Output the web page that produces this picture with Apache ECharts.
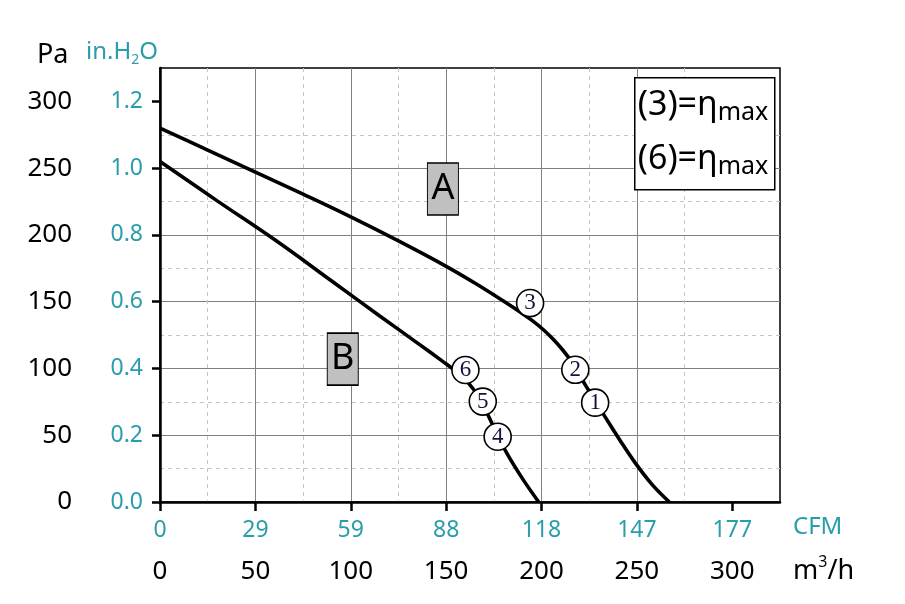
<!DOCTYPE html>
<html>
<head>
<meta charset="utf-8">
<script src="https://cdn.jsdelivr.net/npm/echarts@6/dist/echarts.min.js"></script>
<style>html,body{margin:0;padding:0;background:#fff}#c{width:905px;height:604px}</style>
</head>
<body>
<div id="c"></div>
<script>
// ---- data ----
const m3hTicks = [0, 50, 100, 150, 200, 250, 300];
const cfmLabels = ['0', '29', '59', '88', '118', '147', '177'];
const paTicks = [0, 50, 100, 150, 200, 250, 300];
const inh2oLabels = ['0.0', '0.2', '0.4', '0.6', '0.8', '1.0', '1.2'];

const qA = [0, 25, 50, 75, 100, 125, 150, 165, 180, 188, 195, 201, 206, 211, 215, 219, 223, 228, 233, 241, 249, 258, 267];
const pA = [280, 263.5, 247, 230.5, 213.5, 195.5, 176.5, 164, 150.5, 143, 136, 129, 122, 114, 106.5, 97.5, 87.5, 76, 64.5, 46.5, 29.5, 13, 0];
const qB = [0, 30, 60, 90, 115, 135, 148, 155, 160, 164, 168, 172, 177, 182, 190, 198.5];
const pB = [255, 225.5, 196.5, 165.5, 139.5, 119, 105.5, 98, 91.5, 85, 76.5, 65, 50, 36, 17.5, 0];

const markNamesA = ['3', '2', '1'];
const markQA = [194, 217.7, 228.1];
const markPA = [149, 99, 74.4];
const markNamesB = ['6', '5', '4'];
const markQB = [160.1, 169.2, 177];
const markPB = [98.9, 75.2, 48.9];

const curveLabels = ['A', 'B'];
const curveLabelQ = [148.3, 95.8];
const curveLabelP = [234.4, 107];

// ---- chart ----
const teal = '#2a9dab';
const font = 'Noto Sans';
const zip = (xs, ys) => xs.map((x, i) => [x, ys[i]]);

const chart = echarts.init(document.getElementById('c'));
const markerSeries = (names, qs, ps) => ({
  type: 'scatter', xAxisIndex: 0, yAxisIndex: 0, z: 5,
  symbol: 'circle', symbolSize: 27,
  itemStyle: {color: '#fff', borderColor: '#000', borderWidth: 1.6, opacity: 1},
  label: {show: true, position: 'inside', formatter: p => p.data.name,
          fontFamily: 'Liberation Serif', fontSize: 23, color: '#14143a'},
  emphasis: {disabled: true},
  data: names.map((n, i) => ({name: n, value: [qs[i], ps[i]]}))
});

const option = {
  animation: false,
  backgroundColor: '#fff',
  grid: {left: 160, top: 68, right: 125, bottom: 102, show: true,
         borderColor: '#000', borderWidth: 1.5, backgroundColor: 'transparent'},
  xAxis: [
    {type: 'value', min: 0, max: 325, interval: 25, position: 'bottom', z: 1,
     axisLine: {show: true, onZero: false, lineStyle: {color: '#000', width: 2.5}},
     axisTick: {show: false},
     axisLabel: {customValues: m3hTicks, margin: 57, color: '#000', fontSize: 26, fontFamily: font},
     splitLine: {show: true, showMaxLine: false,
                 lineStyle: {color: ['rgba(0,0,0,0)', '#c4c4c4'], type: [4, 4], width: 1}}},
    {type: 'value', min: 0, max: 325, interval: 50, position: 'bottom', z: 0,
     axisLine: {show: false},
     axisTick: {show: true, customValues: m3hTicks, length: 9, lineStyle: {color: '#000', width: 2.5}},
     axisLabel: {customValues: m3hTicks, margin: 17, color: teal, fontSize: 23, fontFamily: font,
                 formatter: v => cfmLabels[m3hTicks.indexOf(v)]},
     splitLine: {show: true, showMinLine: false, showMaxLine: false,
                 lineStyle: {color: '#808080', width: 1}}}
  ],
  yAxis: [
    {type: 'value', min: 0, max: 325, interval: 25, position: 'left', z: 1,
     axisLine: {show: true, onZero: false, lineStyle: {color: '#000', width: 2.5}},
     axisTick: {show: false},
     axisLabel: {customValues: paTicks, margin: 88, color: '#000', fontSize: 26, fontFamily: font},
     splitLine: {show: true, showMaxLine: false,
                 lineStyle: {color: ['rgba(0,0,0,0)', '#c4c4c4'], type: [4, 4], width: 1}}},
    {type: 'value', min: 0, max: 325, interval: 50, position: 'left', z: 0,
     axisLine: {show: false},
     axisTick: {show: true, customValues: paTicks, length: 8, lineStyle: {color: '#000', width: 2.5}},
     axisLabel: {customValues: paTicks, margin: 17, color: teal, fontSize: 23, fontFamily: font,
                 formatter: v => inh2oLabels[paTicks.indexOf(v)]},
     splitLine: {show: true, showMinLine: false, showMaxLine: false,
                 lineStyle: {color: '#808080', width: 1}}}
  ],
  series: [
    {type: 'line', name: 'A', xAxisIndex: 0, yAxisIndex: 0, z: 3, data: zip(qA, pA),
     showSymbol: false, smooth: 0.4, lineStyle: {color: '#000', width: 3.6}},
    {type: 'line', name: 'B', xAxisIndex: 0, yAxisIndex: 0, z: 3, data: zip(qB, pB),
     showSymbol: false, smooth: 0.4, lineStyle: {color: '#000', width: 3.6}},
    markerSeries(markNamesA, markQA, markPA),
    markerSeries(markNamesB, markQB, markPB),
    {type: 'scatter', xAxisIndex: 0, yAxisIndex: 0, z: 4,
     symbol: 'rect', symbolSize: [31, 52],
     itemStyle: {color: '#c0c0c0', borderColor: '#000', borderWidth: 1.2, opacity: 1},
     label: {show: true, position: 'inside', formatter: p => p.data.name,
             fontFamily: font, fontSize: 36, color: '#000'},
     emphasis: {disabled: true},
     data: curveLabels.map((n, i) => ({name: n, value: [curveLabelQ[i], curveLabelP[i]]}))}
  ],
  graphic: [
    {type: 'text', z: 100, left: 37, top: 42,
     style: {text: 'Pa', font: '27px "Noto Sans"', fill: '#000'}},
    {type: 'text', z: 100, left: 86, top: 40,
     style: {text: '{m|in.H}{s|2}{m|O}', fill: teal,
             rich: {m: {fontFamily: font, fontSize: 24, lineHeight: 30, color: teal},
                    s: {fontFamily: font, fontSize: 14, lineHeight: 10, verticalAlign: 'bottom', color: teal}}}},
    {type: 'text', z: 100, left: 793, top: 515,
     style: {text: 'CFM', font: '24px "Noto Sans"', fill: teal}},
    {type: 'text', z: 100, left: 793, top: 554,
     style: {text: '{m|m}{s|3}{m|/h}', fill: '#000',
             rich: {m: {fontFamily: font, fontSize: 27, lineHeight: 34, color: '#000'},
                    s: {fontFamily: font, fontSize: 16, lineHeight: 20, verticalAlign: 'top', color: '#000'}}}},
    {type: 'group', z: 100, left: 634, top: 77, children: [
      {type: 'rect', z: 100, shape: {x: 0, y: 0, width: 140, height: 112},
       style: {fill: '#fff', stroke: '#000', lineWidth: 1.5}},
      {type: 'text', z: 101, x: 3, y: 8,
       style: {text: '{m|(3)=η}{s|max}', rich: {
         m: {fontFamily: font, fontSize: 34, lineHeight: 40, color: '#000'},
         s: {fontFamily: font, fontSize: 25, lineHeight: 18, verticalAlign: 'bottom', color: '#000'}}}},
      {type: 'text', z: 101, x: 3, y: 62,
       style: {text: '{m|(6)=η}{s|max}', rich: {
         m: {fontFamily: font, fontSize: 34, lineHeight: 40, color: '#000'},
         s: {fontFamily: font, fontSize: 25, lineHeight: 18, verticalAlign: 'bottom', color: '#000'}}}}
    ]}
  ]
};
chart.setOption(option);
</script>
</body>
</html>
